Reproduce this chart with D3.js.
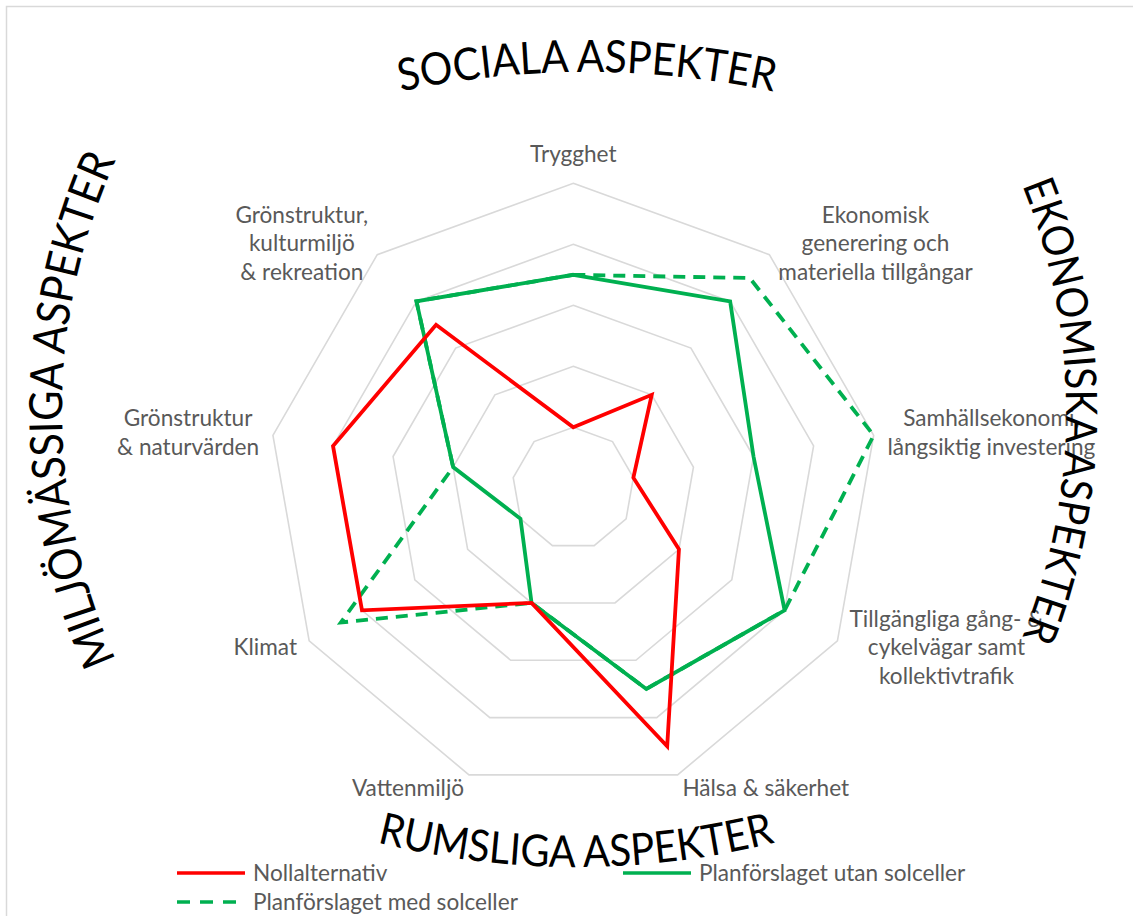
<!DOCTYPE html>
<html><head><meta charset="utf-8">
<script src="https://cdn.jsdelivr.net/npm/d3@7"></script>
<style>
html,body{margin:0;padding:0;background:#fff;}
svg{display:block;}
</style></head><body>
<svg id="chart" width="1133" height="916"></svg>
<script>
// ---- data ----
const categories = [
  ["Trygghet"],
  ["Ekonomisk", "generering och", "materiella tillgångar"],
  ["Samhällsekonomi,", "långsiktig investering"],
  ["Tillgängliga gång- &", "cykelvägar samt", "kollektivtrafik"],
  ["Hälsa & säkerhet"],
  ["Vattenmiljö"],
  ["Klimat"],
  ["Grönstruktur", "& naturvärden"],
  ["Grönstruktur,", "kulturmiljö", "& rekreation"]
];
const ringLevels = [1, 2, 3, 4, 5];
const nollalternativ = [1, 2, 1, 2, 4.5, 2, 4, 4, 3.5];
const utanSolceller = [3.5, 4, 3, 4, 3.5, 2, 1, 2, 4];
const medSolceller = [3.5, 4.5, 5, 4, 3.5, 2, 4.4, 2, 4];
const seriesNames = ["Nollalternativ", "Planförslaget utan solceller", "Planförslaget med solceller"];
const titles = ["SOCIALA ASPEKTER", "EKONOMISKA ASPEKTER", "RUMSLIGA ASPEKTER", "MILJÖMÄSSIGA ASPEKTER"];

// ---- layout ----
const svg = d3.select("#chart");
const cx = 573.3, cy = 488.3, R = 305;
const FONT = "Lato, 'Open Sans', sans-serif";
const labelColor = "#595959";
const gridColor = "#d9d9d9";

svg.append("rect").attr("x", 6.5).attr("y", 6.5).attr("width", 1300).attr("height", 1100)
  .attr("fill", "none").attr("stroke", gridColor).attr("stroke-width", 1.5);

const n = categories.length;
const angle = d3.scaleLinear().domain([0, n]).range([0, 2 * Math.PI]);
const r = d3.scaleLinear().domain([0, 5]).range([0, R]);

const g = svg.append("g").attr("transform", `translate(${cx},${cy})`);

// grid rings
const ringLine = d3.lineRadial().angle((d, i) => angle(i)).radius(d => d).curve(d3.curveLinearClosed);
g.selectAll("path.ring").data(ringLevels).join("path")
  .attr("class", "ring")
  .attr("d", lv => ringLine(d3.range(n).map(() => r(lv))))
  .attr("fill", "none").attr("stroke", gridColor).attr("stroke-width", 1.6);

// series
const seriesLine = d3.lineRadial().angle((d, i) => angle(i)).radius(d => r(d)).curve(d3.curveLinearClosed);
const series = [
  {name: seriesNames[2], values: medSolceller, color: "#00b050", dash: "12 8"},
  {name: seriesNames[1], values: utanSolceller, color: "#00b050", dash: null},
  {name: seriesNames[0], values: nollalternativ, color: "#ff0000", dash: null}
];
g.selectAll("path.series").data(series).join("path")
  .attr("class", "series")
  .attr("d", s => seriesLine(s.values))
  .attr("fill", "none")
  .attr("stroke", s => s.color)
  .attr("stroke-width", 3.8)
  .attr("stroke-linejoin", "miter")
  .attr("stroke-dasharray", s => s.dash);

// category labels
const lh = 28.4, capOff = 7.5, labelPad = 14;
categories.forEach((lines, i) => {
  const a = angle(i), sx = Math.sin(a), sy = -Math.cos(a);
  const px = cx + (R + labelPad) * sx, py = cy + (R + labelPad) * sy;
  const t = svg.append("text").attr("text-anchor", "middle")
    .attr("font-family", FONT).attr("font-size", 22.6).attr("fill", labelColor);
  const spans = lines.map(ln => t.append("tspan").text(ln));
  const w = d3.max(spans, s => s.node().getComputedTextLength());
  const m = lines.length;
  let bx, y0;
  if (Math.abs(sx) < 0.2) {
    bx = px;
    y0 = sy < 0 ? py - capOff - (m - 1) * lh : py + capOff + 16;
  } else {
    bx = sx > 0 ? px + w / 2 : px - w / 2;
    y0 = py - (m - 1) / 2 * lh + capOff;
  }
  spans.forEach((s, k) => s.attr("x", bx).attr("y", y0 + k * lh));
});

// curved titles
const deg = d => d * Math.PI / 180;
function arcPath(c, rr, a0, a1, sweep) {
  const p0 = [c[0] + rr * Math.cos(a0), c[1] + rr * Math.sin(a0)];
  const p1 = [c[0] + rr * Math.cos(a1), c[1] + rr * Math.sin(a1)];
  return `M${p0[0]},${p0[1]}A${rr},${rr} 0 0 ${sweep} ${p1[0]},${p1[1]}`;
}
const titleGeom = [
  {c: [587, 972], rr: 900, a0: deg(245), a1: deg(295), sweep: 1, len: 375},
  {c: [461, 411], rr: 605, a0: deg(-60), a1: deg(60), sweep: 1, len: 463},
  {c: [576, 47], rr: 820, a0: deg(125), a1: deg(55), sweep: 0, len: 402},
  {c: [668, 410], rr: 606, a0: deg(120), a1: deg(240), sweep: 1, len: 515}
];
const defs = svg.append("defs");
titles.forEach((txt, i) => {
  const tg = titleGeom[i];
  defs.append("path").attr("id", "tp" + i).attr("d", arcPath(tg.c, tg.rr, tg.a0, tg.a1, tg.sweep));
  const t = svg.append("text").attr("font-family", FONT).attr("font-size", 40).attr("fill", "#000");
  const tp = t.append("textPath").attr("href", "#tp" + i).attr("startOffset", "50%")
    .attr("text-anchor", "middle").text(txt);
  const L = t.node().getComputedTextLength();
  t.attr("font-size", 1.1 * 40 * tg.len / L);
  tp.attr("textLength", tg.len).attr("lengthAdjust", "spacingAndGlyphs");
});

// legend
const legendCols = [177, 623], legendRows = [873, 902];
const legendItems = [
  {name: seriesNames[0], color: "#ff0000", dash: null, col: 0, row: 0},
  {name: seriesNames[1], color: "#00b050", dash: null, col: 1, row: 0},
  {name: seriesNames[2], color: "#00b050", dash: "13 10", col: 0, row: 1}
];
const lg = svg.append("g");
legendItems.forEach(it => {
  const x = legendCols[it.col], y = legendRows[it.row];
  lg.append("line").attr("x1", x).attr("x2", x + 68).attr("y1", y).attr("y2", y)
    .attr("stroke", it.color).attr("stroke-width", 3.6).attr("stroke-dasharray", it.dash);
  lg.append("text").attr("x", x + 76).attr("y", y + 8)
    .attr("font-family", FONT).attr("font-size", 22.6).attr("fill", labelColor).text(it.name);
});
</script>
</body></html>
